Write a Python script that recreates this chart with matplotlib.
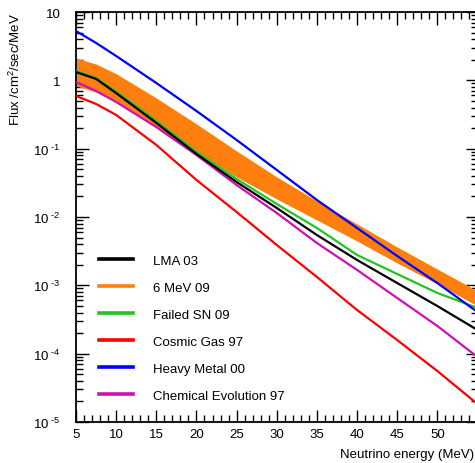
import matplotlib
matplotlib.use("Agg")
import matplotlib.pyplot as plt
from matplotlib.lines import Line2D
from matplotlib.ticker import MultipleLocator, FixedLocator, FuncFormatter, NullFormatter
import numpy as np

plt.rcParams['font.family'] = ['Liberation Sans', 'DejaVu Sans']
plt.rcParams['mathtext.fontset'] = 'custom'
plt.rcParams['mathtext.rm'] = 'Liberation Sans'
plt.rcParams['mathtext.it'] = 'Liberation Sans'

# ---- data ----
energy = [5, 7.5, 10, 15, 20, 25, 30, 35, 40, 45, 50, 55]

lma_03 = [1.32, 1.05, 0.65, 0.238, 0.0836, 0.0325, 0.01355, 0.00545, 0.00235, 0.00108, 0.000498, 0.000222]
mev6_09_upper = [2.12, 1.73, 1.25, 0.551, 0.230, 0.0925, 0.0385, 0.01714, 0.00789, 0.00364, 0.00173, 0.000826]
mev6_09_lower = [0.826, 0.675, 0.499, 0.207, 0.0894, 0.0385, 0.01834, 0.00904, 0.00445, 0.00212, 0.00105, 0.000498]
failed_sn_09 = [1.37, 1.08, 0.68, 0.254, 0.0894, 0.0360, 0.01549, 0.0069, 0.00278, 0.001465, 0.000773, 0.000466]
cosmic_gas_97 = [0.590, 0.451, 0.311, 0.1132, 0.0348, 0.01183, 0.00389, 0.001324, 0.000435, 0.000158, 5.57e-5, 1.83e-5]
heavy_metal_00 = [5.27, 3.52, 2.27, 0.914, 0.356, 0.134, 0.0488, 0.01774, 0.0069, 0.00269, 0.00108, 0.000407]
chem_evol_97 = [0.946, 0.698, 0.482, 0.207, 0.0807, 0.0294, 0.01143, 0.00416, 0.00168, 0.000652, 0.000254, 8.93e-5]

y_major = [1e-5, 1e-4, 1e-3, 1e-2, 1e-1, 1, 10]
x_major = [5, 10, 15, 20, 25, 30, 35, 40, 45, 50]

labels = ["LMA 03", "6 MeV 09", "Failed SN 09", "Cosmic Gas 97", "Heavy Metal 00", "Chemical Evolution 97"]
colors = ["#000000", "#ff7f0e", "#22c422", "#ff0000", "#0000ff", "#d010b0"]

W, H = 475, 464
fig = plt.figure(figsize=(W / 100, H / 100), dpi=100)
ax_l, ax_r, ax_t, ax_b = 76, 477.5, 13, 423
ax = fig.add_axes([ax_l / W, 1 - ax_b / H, (ax_r - ax_l) / W, (ax_b - ax_t) / H])

ax.fill_between(energy, mev6_09_lower, mev6_09_upper, color=colors[1], lw=0, zorder=2)
lw = 1.6
ax.plot(energy, lma_03, color=colors[0], lw=lw, zorder=4)
ax.plot(energy, failed_sn_09, color=colors[2], lw=lw, zorder=3)
ax.plot(energy, cosmic_gas_97, color=colors[3], lw=lw, zorder=3)
ax.plot(energy, heavy_metal_00, color=colors[4], lw=lw, zorder=3)
ax.plot(energy, chem_evol_97, color=colors[5], lw=lw, zorder=3)

ax.set_yscale('log')
ax.set_xlim(5, 55)
ax.set_ylim(1e-5, 10)

ax.xaxis.set_major_locator(FixedLocator(x_major))
ax.xaxis.set_minor_locator(MultipleLocator(1))
ax.yaxis.set_major_locator(FixedLocator(y_major))
y_minor = [m * d for d in y_major[:-1] for m in range(2, 10)]
ax.yaxis.set_minor_locator(FixedLocator(y_minor))
ax.yaxis.set_minor_formatter(NullFormatter())

def yfmt(v, pos):
    e = int(round(np.log10(v)))
    if e == 1:
        return "10"
    if e == 0:
        return "1"
    return r"$\mathregular{10^{\ \text{-%d}}}$" % (-e)

ax.xaxis.set_major_formatter(FuncFormatter(lambda v, p: "%d" % v))
ax.yaxis.set_major_formatter(FuncFormatter(yfmt))

ax.tick_params(which='both', direction='in', top=True, right=True, colors='black',
               labelsize=9.5, width=1.0)
ax.tick_params(which='major', length=9)
ax.tick_params(which='minor', length=5)
ax.tick_params(axis='y', which='major', pad=11)
ax.tick_params(axis='x', which='major', pad=4)
for s in ax.spines.values():
    s.set_linewidth(1.3)
    s.set_color('black')

handles = [Line2D([], [], color=c, lw=2.6) for c in colors]
leg = ax.legend(handles, labels, loc='upper left', frameon=False, fontsize=9.5,
                bbox_to_anchor=((92 - ax_l) / (ax_r - ax_l), 1 - (249 - ax_t) / (ax_b - ax_t)),
                handlelength=2.6, handletextpad=1.5, labelspacing=1.12, borderpad=0)

fig.text(474 / W, 1 - 455 / H, "Neutrino energy (MeV)", ha='right', va='center', fontsize=9.5)
fig.text(15 / W, 1 - 13 / H, r"Flux /cm$\mathregular{^2}$/sec/MeV", rotation=90,
         ha='center', va='top', fontsize=9.5)

fig.savefig("out.png", dpi=100)
